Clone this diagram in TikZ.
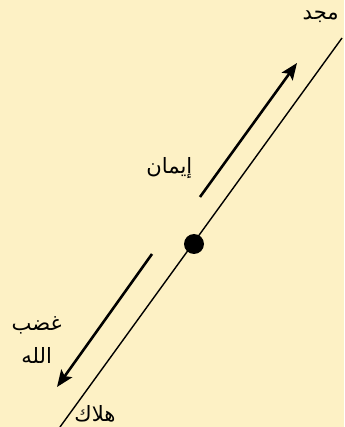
\documentclass[tikz,border=0pt]{standalone}
\usepackage{fontspec}
\usetikzlibrary{arrows.meta}
\TeXXeTstate=1
\newfontfamily\arabicfont[Script=Arabic]{DejaVu Sans}
\definecolor{paper}{HTML}{FDF1C5}

\begin{document}
\begin{tikzpicture}[
    every node/.style={font=\arabicfont\fontsize{18}{28}\selectfont, align=center},
    axis/.style={line width=1.2pt},
    arrow/.style={-{Stealth[length=5mm, width=4mm, inset=1mm]}, line width=2.2pt},
    dot/.style={circle, fill=black, inner sep=0pt, minimum size=6mm}
]
    \fill[paper] (0,0) rectangle (10.32,12.81);
    \useasboundingbox (0,0) rectangle (10.32,12.81);

    % main line
    \coordinate (bottom) at (1.80,0);
    \coordinate (top) at (10.26,11.67);
    \draw[axis] (bottom) -- (top);
    \node[dot] (centre) at (5.82,5.49) {};

    % arrows beside the line
    \coordinate (upstart) at (6.00,6.90);
    \coordinate (uptip) at (8.91,10.92);
    \coordinate (downstart) at (4.56,5.19);
    \coordinate (downtip) at (1.71,1.20);
    \draw[arrow] (upstart) -- (uptip);
    \draw[arrow] (downstart) -- (downtip);

    % labels
    \node (glory) at (9.62,12.30) {\beginR مجد\endR};
    \node (faith) at (5.08,7.77) {\beginR إيمان\endR};
    \node (wrath) at (1.10,2.62) {\beginR غضب\endR\\\beginR الله\endR};
    \node (ruin) at (2.85,0.40) {\beginR هلاك\endR};
\end{tikzpicture}
\end{document}
